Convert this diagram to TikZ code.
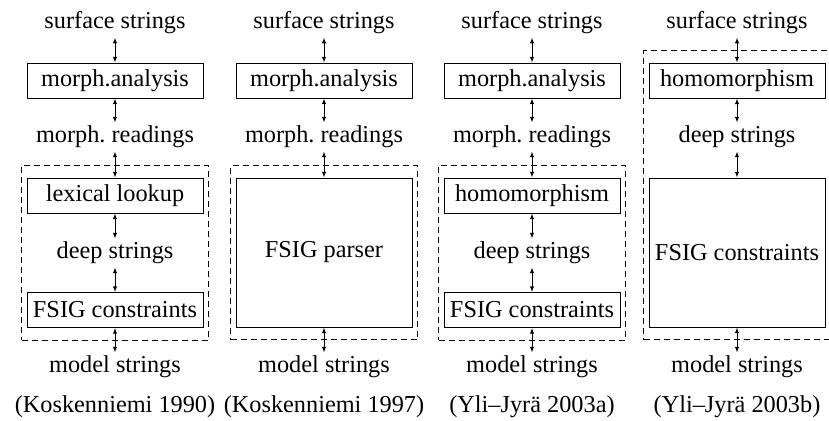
\documentclass[tikz,border=0pt]{standalone}
\usepackage{fontspec}
\setmainfont{Liberation Serif}
\usetikzlibrary{arrows.meta}
\usetikzlibrary{fit}

\begin{document}
\begin{tikzpicture}[x=0.5pt, y=-0.5pt, line width=0.5pt,
        font=\fontsize{12.15pt}{14pt}\selectfont,
        box_style/.style={draw, rectangle, minimum width=88pt, minimum height=17.5pt, inner sep=0pt},
        big_box_style/.style={box_style, minimum height=74.5pt},
        text_style/.style={inner sep=1.5pt},
        group_style/.style={draw, dash pattern=on 3pt off 2pt, inner xsep=2.5pt, inner ysep=6pt},
        edge_style/.style={draw, {Latex[length=2.8pt,width=2.2pt]}-{Latex[length=2.8pt,width=2.2pt]}}]

        \useasboundingbox (0,0) rectangle (829,420);

        % Koskenniemi 1990
        \node [text_style](surf1) at (115,23) {surface strings};
        \node [box_style](ma1) at (115,80.5) {morph.analysis};
        \node [text_style](read1) at (115,137) {morph.\ readings};
        \node [box_style](lex1) at (115,195.5) {lexical lookup};
        \node [text_style](deep1) at (115,253) {deep strings};
        \node [box_style](fsig1) at (115,310) {FSIG constraints};
        \node [text_style](model1) at (115,367) {model strings};
        \node (cap1) at (115,407) {(Koskenniemi 1990)};
        \node [group_style, fit=(lex1)(fsig1)](grp1) {};

        % Koskenniemi 1997
        \node [text_style](surf2) at (324,23) {surface strings};
        \node [box_style](ma2) at (324,80.5) {morph.analysis};
        \node [text_style](read2) at (324,137) {morph.\ readings};
        \node [big_box_style](parser2) at (324,252.5) {FSIG parser};
        \node [text_style](model2) at (324,367) {model strings};
        \node (cap2) at (324,407) {(Koskenniemi 1997)};
        \node [group_style, fit=(parser2)](grp2) {};

        % Yli-Jyra 2003a
        \node [text_style](surf3) at (532,23) {surface strings};
        \node [box_style](ma3) at (532,80.5) {morph.analysis};
        \node [text_style](read3) at (532,137) {morph.\ readings};
        \node [box_style](hom3) at (532,195.5) {homomorphism};
        \node [text_style](deep3) at (532,253) {deep strings};
        \node [box_style](fsig3) at (532,310) {FSIG constraints};
        \node [text_style](model3) at (532,367) {model strings};
        \node (cap3) at (532,407) {(Yli--Jyrä 2003a)};
        \node [group_style, fit=(hom3)(fsig3)](grp3) {};

        % Yli-Jyra 2003b
        \node [text_style](surf4) at (737,23) {surface strings};
        \node [box_style](hom4) at (737,80.5) {homomorphism};
        \node [text_style](deep4) at (737,137) {deep strings};
        \node [big_box_style](fsig4) at (737,252.5) {FSIG constraints};
        \node [text_style](model4) at (737,367) {model strings};
        \node (cap4) at (737,407) {(Yli--Jyrä 2003b)};
        \node [group_style, fit=(hom4)(fsig4)](grp4) {};

        \draw [edge_style] (surf1) -- (ma1);
        \draw [edge_style] (ma1) -- (read1);
        \draw [edge_style] (read1) -- (lex1);
        \draw [edge_style] (lex1) -- (deep1);
        \draw [edge_style] (deep1) -- (fsig1);
        \draw [edge_style] (fsig1) -- (model1);

        \draw [edge_style] (surf2) -- (ma2);
        \draw [edge_style] (ma2) -- (read2);
        \draw [edge_style] (read2) -- (parser2);
        \draw [edge_style] (parser2) -- (model2);

        \draw [edge_style] (surf3) -- (ma3);
        \draw [edge_style] (ma3) -- (read3);
        \draw [edge_style] (read3) -- (hom3);
        \draw [edge_style] (hom3) -- (deep3);
        \draw [edge_style] (deep3) -- (fsig3);
        \draw [edge_style] (fsig3) -- (model3);

        \draw [edge_style] (surf4) -- (hom4);
        \draw [edge_style] (hom4) -- (deep4);
        \draw [edge_style] (deep4) -- (fsig4);
        \draw [edge_style] (fsig4) -- (model4);

\end{tikzpicture}
\end{document}
